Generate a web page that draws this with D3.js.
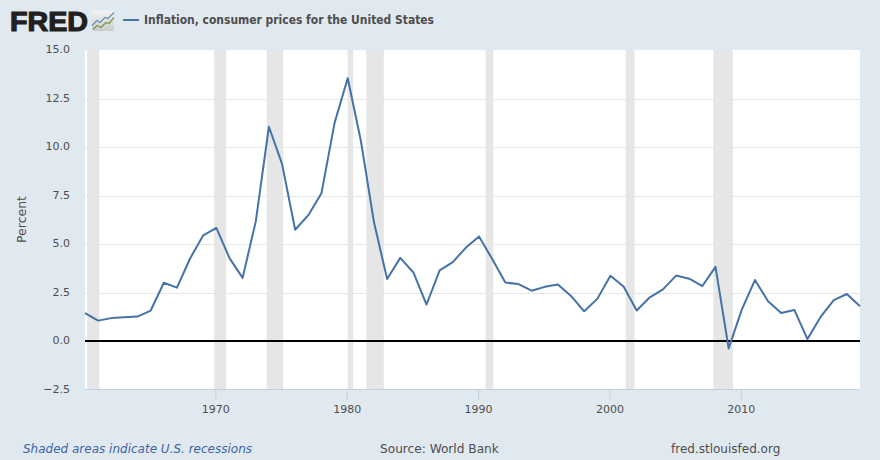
<!DOCTYPE html>
<html lang="en">
<head>
<meta charset="UTF-8">
<title>Inflation, consumer prices for the United States</title>
<script src="https://d3js.org/d3.v7.min.js"></script>
<style>
  html, body { margin: 0; padding: 0; background: #e1e9f0; }
  svg { display: block; font-family: "DejaVu Sans", sans-serif; }
</style>
</head>
<body>
<script>
// values, one per year
var years = [1960,1961,1962,1963,1964,1965,1966,1967,1968,1969,
             1970,1971,1972,1973,1974,1975,1976,1977,1978,1979,
             1980,1981,1982,1983,1984,1985,1986,1987,1988,1989,
             1990,1991,1992,1993,1994,1995,1996,1997,1998,1999,
             2000,2001,2002,2003,2004,2005,2006,2007,2008,2009,
             2010,2011,2012,2013,2014,2015,2016,2017,2018,2019];
var inflation = [1.46,1.07,1.20,1.24,1.28,1.59,3.02,2.77,4.27,5.46,
                 5.84,4.29,3.27,6.18,11.05,9.14,5.75,6.50,7.63,11.25,
                 13.55,10.33,6.13,3.21,4.30,3.55,1.90,3.66,4.08,4.83,
                 5.40,4.24,3.03,2.95,2.61,2.81,2.93,2.34,1.55,2.19,
                 3.38,2.83,1.59,2.27,2.68,3.39,3.23,2.85,3.84,-0.36,
                 1.64,3.16,2.07,1.46,1.62,0.12,1.26,2.13,2.44,1.81];
// band edges as they sit on the picture
var recessionStart = ["1960-03","1969-11","1973-11","1980-01","1981-06","1990-07","2001-03","2007-11"];
var recessionEnd   = ["1961-02","1970-10","1975-02","1980-06","1982-10","1991-02","2001-11","2009-05"];
var yTicks = [-2.5,0,2.5,5,7.5,10,12.5,15];
var xTicks = [1970,1980,1990,2000,2010];

var width = 880, height = 460;
var margin = {top: 50, right: 20, bottom: 70, left: 85};

var parseMonth = d3.timeParse("%Y-%m");
var yearDate = function(y) { return new Date(y, 0, 1); };

var svg = d3.select("body").append("svg")
    .attr("width", width)
    .attr("height", height);

var x = d3.scaleTime()
    .domain([yearDate(1960), yearDate(2019)])
    .range([margin.left, width - margin.right]);
var y = d3.scaleLinear()
    .domain([-2.5, 15])
    .range([height - margin.bottom, margin.top]);

// plot background
svg.append("rect")
    .attr("x", margin.left)
    .attr("y", margin.top)
    .attr("width", width - margin.left - margin.right)
    .attr("height", height - margin.top - margin.bottom)
    .attr("fill", "#fff");

// grid lines
svg.selectAll("line.grid")
    .data(yTicks.filter(function(d) { return d !== 0 && d !== -2.5 && d !== 15; }))
    .enter().append("line")
    .attr("class", "grid")
    .attr("x1", margin.left)
    .attr("x2", width - margin.right)
    .attr("y1", function(d) { return Math.round(y(d)) + 0.5; })
    .attr("y2", function(d) { return Math.round(y(d)) + 0.5; })
    .attr("stroke", "#e6e6e6");

// recession bands
svg.selectAll("rect.recession")
    .data(recessionStart)
    .enter().append("rect")
    .attr("class", "recession")
    .attr("x", function(d) { return x(parseMonth(d)); })
    .attr("width", function(d, i) { return x(parseMonth(recessionEnd[i])) - x(parseMonth(d)); })
    .attr("y", margin.top)
    .attr("height", height - margin.top - margin.bottom)
    .attr("fill", "#e6e6e6");

// zero line
svg.append("line")
    .attr("x1", margin.left)
    .attr("x2", width - margin.right)
    .attr("y1", Math.round(y(0)))
    .attr("y2", Math.round(y(0)))
    .attr("stroke", "#000")
    .attr("stroke-width", 2);

// y axis, labels only
var yAxis = svg.append("g")
    .attr("transform", "translate(" + margin.left + ",0)")
    .call(d3.axisLeft(y).tickValues(yTicks).tickFormat(d3.format(".1f")).tickSize(0).tickPadding(15).offset(-0.5));
yAxis.select(".domain").remove();
yAxis.selectAll("text")
    .attr("font-family", "'DejaVu Sans', sans-serif")
    .attr("font-size", 11)
    .attr("fill", "#4d4d4d");

// x axis
var xAxis = svg.append("g")
    .attr("transform", "translate(0," + (height - margin.bottom) + ")")
    .call(d3.axisBottom(x).tickValues(xTicks.map(yearDate)).tickFormat(d3.timeFormat("%Y")).tickSize(10).tickSizeOuter(0).tickPadding(5).offset(-0.5));
xAxis.select(".domain").attr("stroke", "#c0d0e0");
xAxis.selectAll(".tick line").attr("stroke", "#c0d0e0");
xAxis.selectAll("text")
    .attr("font-family", "'DejaVu Sans', sans-serif")
    .attr("font-size", 11)
    .attr("fill", "#4d4d4d");

// y axis title
svg.append("text")
    .attr("transform", "translate(25.5," + ((margin.top + height - margin.bottom) / 2 - 0.5) + ") rotate(-90)")
    .attr("text-anchor", "middle")
    .attr("font-size", 12.5)
    .attr("fill", "#4d4d4d")
    .text("Percent");

// the series
var line = d3.line()
    .x(function(d, i) { return x(yearDate(years[i])); })
    .y(function(d) { return y(d); });

svg.append("path")
    .datum(inflation)
    .attr("d", line)
    .attr("fill", "none")
    .attr("stroke", "#4572a7")
    .attr("stroke-width", 2)
    .attr("stroke-linejoin", "round");

// legend
svg.append("line")
    .attr("x1", 123).attr("x2", 139)
    .attr("y1", 20).attr("y2", 20)
    .attr("stroke", "#4572a7")
    .attr("stroke-width", 2);
svg.append("text")
    .attr("x", 144)
    .attr("y", 24)
    .attr("font-size", 12)
    .attr("font-weight", "bold")
    .attr("fill", "#4d4d4d")
    .attr("textLength", 290)
    .attr("lengthAdjust", "spacingAndGlyphs")
    .text("Inflation, consumer prices for the United States");

// FRED logo
svg.append("text")
    .attr("x", 10)
    .attr("y", 30.5)
    .attr("font-family", "'Liberation Sans', sans-serif")
    .attr("font-size", 28)
    .attr("font-weight", "bold")
    .attr("fill", "#231f20")
    .attr("stroke", "#231f20")
    .attr("stroke-width", 1.2)
    .attr("textLength", 78)
    .attr("lengthAdjust", "spacingAndGlyphs")
    .text("FRED");

var grad = svg.append("defs").append("linearGradient")
    .attr("id", "logoFill")
    .attr("x1", 0).attr("y1", 0).attr("x2", 0).attr("y2", 1);
grad.append("stop").attr("offset", "0%").attr("stop-color", "#f2f3f2");
grad.append("stop").attr("offset", "100%").attr("stop-color", "#c9cdca");

var logo = svg.append("g").attr("transform", "translate(92,10.5)");
logo.append("rect").attr("width", 22).attr("height", 20.5).attr("rx", 2).attr("fill", "url(#logoFill)");
logo.append("path").attr("d", "M0,15L5,10L8,12L13,7L16,8L22,2").attr("fill", "none").attr("stroke", "#5f8fb8").attr("stroke-width", 1.2);
logo.append("path").attr("d", "M1,19L5,15L9,17L14,12L17,13L22,7").attr("fill", "none").attr("stroke", "#749a45").attr("stroke-width", 1.2);

// footer
svg.append("text")
    .attr("x", 23).attr("y", 453)
    .attr("font-size", 12)
    .attr("font-style", "italic")
    .attr("fill", "#3e64a0")
    .text("Shaded areas indicate U.S. recessions");
svg.append("text")
    .attr("x", 380).attr("y", 453)
    .attr("font-size", 12.15)
    .attr("fill", "#4d4d4d")
    .text("Source: World Bank");
svg.append("text")
    .attr("x", 671).attr("y", 453)
    .attr("font-size", 12)
    .attr("fill", "#4d4d4d")
    .text("fred.stlouisfed.org");
</script>
</body>
</html>
